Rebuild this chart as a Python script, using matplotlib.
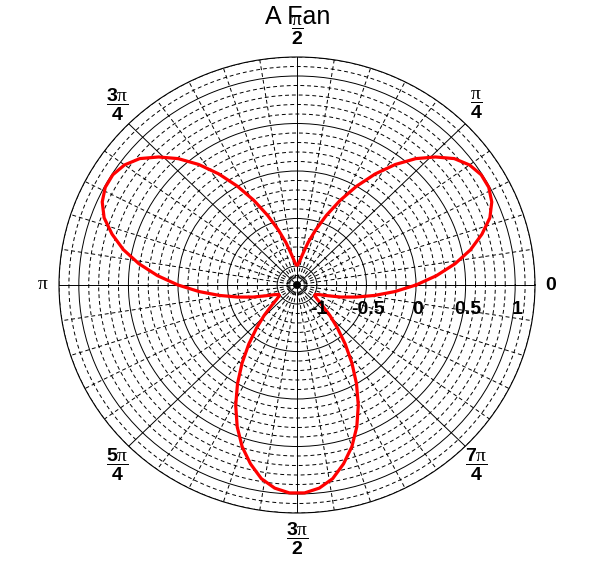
import numpy as np
import matplotlib
matplotlib.use('Agg')
import matplotlib.pyplot as plt
from matplotlib.ticker import MultipleLocator

plt.rcParams['font.family'] = 'Liberation Sans'
plt.rcParams['mathtext.fontset'] = 'custom'
plt.rcParams['mathtext.rm'] = 'Liberation Serif'
plt.rcParams['mathtext.bf'] = 'Liberation Sans:bold'
plt.rcParams['mathtext.it'] = 'Liberation Serif'

# curve values, one every 4 degrees
theta_deg = list(range(0, 364, 4))
r_values = [0.00, 0.21, 0.41, 0.59, 0.74, 0.87, 0.95, 0.99, 0.99, 0.95, 0.87, 0.74, 0.59, 0.41, 0.21,
            0.00, -0.21, -0.41, -0.59, -0.74, -0.87, -0.95, -0.99, -0.99, -0.95, -0.87, -0.74, -0.59, -0.41, -0.21,
            0.00, 0.21, 0.41, 0.59, 0.74, 0.87, 0.95, 0.99, 0.99, 0.95, 0.87, 0.74, 0.59, 0.41, 0.21,
            0.00, -0.21, -0.41, -0.59, -0.74, -0.87, -0.95, -0.99, -0.99, -0.95, -0.87, -0.74, -0.59, -0.41, -0.21,
            0.00, 0.21, 0.41, 0.59, 0.74, 0.87, 0.95, 0.99, 0.99, 0.95, 0.87, 0.74, 0.59, 0.41, 0.21,
            0.00, -0.21, -0.41, -0.59, -0.74, -0.87, -0.95, -0.99, -0.99, -0.95, -0.87, -0.74, -0.59, -0.41, -0.21,
            0.00]

r_ticks = [-1, -0.5, 0, 0.5, 1]
r_tick_labels = ['-1', '-0.5', '0', '0.5', '1']
angle_ticks = [0, 45, 90, 135, 180, 225, 270, 315]
angle_labels = [r'$\mathbf{0}$', r'$\dfrac{\mathrm{\pi}}{\mathbf{4}}$', r'$\dfrac{\mathrm{\pi}}{\mathbf{2}}$',
                r'$\dfrac{\mathbf{3}\mathrm{\pi}}{\mathbf{4}}$', r'$\mathrm{\pi}$',
                r'$\dfrac{\mathbf{5}\mathrm{\pi}}{\mathbf{4}}$', r'$\dfrac{\mathbf{3}\mathrm{\pi}}{\mathbf{2}}$',
                r'$\dfrac{\mathbf{7}\mathrm{\pi}}{\mathbf{4}}$']

fig = plt.figure(figsize=(5.96, 5.72), dpi=100)
ax = fig.add_axes([59/596, 59/572, 476/596, 456/572], projection='polar')
ax.set_aspect('auto')  # the reference circle is slightly wider than tall

ax.set_ylim(-1.2, 1.2)
ax.set_rticks(r_ticks)
ax.yaxis.set_minor_locator(MultipleLocator(0.1))
ax.set_thetagrids(angle_ticks, [''] * len(angle_ticks))
ax.xaxis.set_minor_locator(MultipleLocator(np.deg2rad(9)))
ax.set_yticklabels([])
ax.tick_params(which='both', length=0)

ax.grid(True, which='major', color='black', linestyle='-', linewidth=0.7)
ax.grid(True, which='minor', color='black', linestyle=(0, (4, 3)), linewidth=0.7)
ax.spines['polar'].set_linewidth(0.8)

ax.plot(np.deg2rad(theta_deg), r_values, color='red', linewidth=2.3)

# angle labels around the circle
for a, lab in zip(angle_ticks, angle_labels):
    d = 254
    ax.annotate(lab, xy=(0, -1.2), xytext=(d*np.cos(np.deg2rad(a)), d*np.sin(np.deg2rad(a))),
                textcoords='offset pixels', ha='center', va='center', fontsize=14,
                annotation_clip=False)

# radial labels below the horizontal axis
for r, lab in zip(r_ticks, r_tick_labels):
    ax.annotate(lab, xy=(0, r), xytext=(2, -25), textcoords='offset pixels',
                ha='center', va='center', fontsize=14, fontweight='bold')

fig.text(0.5, 1 - 17/572, 'A Fan', ha='center', va='center', fontsize=18)

fig.savefig('out.png', dpi=100)
